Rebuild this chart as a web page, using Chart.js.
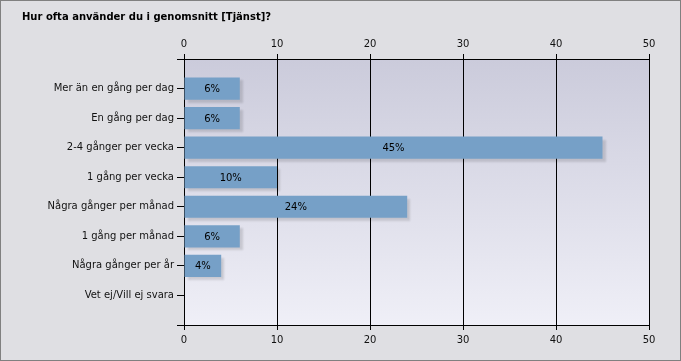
<!DOCTYPE html>
<html><head><meta charset="utf-8">
<script src="https://cdn.jsdelivr.net/npm/chart.js@4/dist/chart.umd.min.js"></script>
<style>
html,body{margin:0;padding:0;background:#dfdfe3;}
#wrap{position:absolute;left:0;top:0;width:681px;height:361px;box-sizing:border-box;border:1px solid #808080;background:#dfdfe3;}
canvas{display:block;}
</style></head>
<body><div id="wrap"><canvas id="c" width="679" height="359"></canvas></div>
<script>
const title = "Hur ofta använder du i genomsnitt [Tjänst]?";
const categories = ["Mer än en gång per dag","En gång per dag","2-4 gånger per vecka","1 gång per vecka","Några gånger per månad","1 gång per månad","Några gånger per år","Vet ej/Vill ej svara"];
const values = [6, 6, 45, 10, 24, 6, 4, 0];
const valueLabels = ["6%","6%","45%","10%","24%","6%","4%",""];
const xTicks = [0, 10, 20, 30, 40, 50];

const FONT = "'DejaVu Sans', Verdana, sans-serif";
const W = 679, H = 359;
const AREA = {left: 183, right: 648, top: 58, bottom: 324};
const TOPPAD = 33;

const points = values.map((v, i) => ({x: v, y: i + 1}));

const bgPlugin = {
  id: 'plotBg',
  beforeDraw(chart) {
    const {ctx, chartArea: a} = chart;
    const g = ctx.createLinearGradient(0, a.top, 0, a.bottom);
    g.addColorStop(0, '#cbcbdb');
    g.addColorStop(1, '#efeff7');
    ctx.save(); ctx.fillStyle = g;
    ctx.fillRect(a.left, a.top, a.right - a.left, a.bottom - a.top);
    ctx.font = "bold 10px " + FONT; ctx.fillStyle = '#000';
    ctx.textAlign = 'left'; ctx.textBaseline = 'middle';
    ctx.fillText(title, 21, 16);
    ctx.restore();
  }
};
const shadowPlugin = {
  id: 'barShadow',
  beforeDatasetsDraw(chart) {
    const ctx = chart.ctx; ctx.save();
    ctx.shadowColor = 'rgba(0,0,0,0.13)';
    ctx.shadowOffsetX = 3; ctx.shadowOffsetY = 3; ctx.shadowBlur = 2;
  },
  afterDatasetsDraw(chart) {
    const ctx = chart.ctx; ctx.restore();
    ctx.save();
    ctx.font = "10px " + FONT; ctx.fillStyle = '#000';
    ctx.textAlign = 'center'; ctx.textBaseline = 'middle';
    chart.getDatasetMeta(0).data.forEach((el, i) => {
      if (!valueLabels[i]) return;
      ctx.fillText(valueLabels[i], (el.base + el.x) / 2, el.y + 1);
    });
    ctx.restore();
  }
};

new Chart(document.getElementById('c'), {
  type: 'bar',
  data: { datasets: [{ data: points, backgroundColor: '#76a0c7', borderWidth: 0,
    barPercentage: 0.75, categoryPercentage: 1, xAxisID: 'x', yAxisID: 'y' }] },
  options: {
    indexAxis: 'y', responsive: false, animation: false,
    layout: { padding: { left: 21, right: W - AREA.right, top: TOPPAD, bottom: 0 } },
    plugins: { legend: { display: false }, tooltip: { enabled: false }, title: { display: false } },
    scales: {
      x: { type: 'linear', position: 'bottom', min: 0, max: 50,
        afterBuildTicks: s => { s.ticks = xTicks.map(v => ({value: v})); },
        afterFit: s => { s.height = H - AREA.bottom; },
        grid: { color: '#000', lineWidth: 1, drawTicks: true, tickLength: 5, tickColor: '#000' },
        border: { display: true, color: '#000' },
        ticks: { color: '#111', font: { family: FONT, size: 10 }, padding: 4, maxRotation: 0 } },
      x2: { type: 'linear', position: 'top', min: 0, max: 50,
        afterBuildTicks: s => { s.ticks = xTicks.map(v => ({value: v})); },
        afterFit: s => { s.height = AREA.top - TOPPAD; },
        grid: { drawOnChartArea: false, color: '#000', tickLength: 5, tickColor: '#000' },
        border: { display: true, color: '#000' },
        ticks: { color: '#111', font: { family: FONT, size: 10 }, padding: 4, maxRotation: 0 } },
      y: { type: 'linear', reverse: true, min: 0, max: 9, offset: false,
        afterBuildTicks: s => { const t = []; for (let i = 0; i <= categories.length + 1; i++) t.push({value: i}); s.ticks = t; },
        afterFit: s => { s.width = AREA.left - 21; },
        grid: { drawOnChartArea: false, offset: false, color: '#000', tickLength: 7, tickColor: '#000' },
        border: { display: true, color: '#000' },
        ticks: { color: '#111', font: { family: FONT, size: 10 }, padding: 3,
          callback: v => (v >= 1 && v <= categories.length) ? categories[v - 1] : '' } }
    }
  },
  plugins: [bgPlugin, shadowPlugin]
});
</script></body></html>
